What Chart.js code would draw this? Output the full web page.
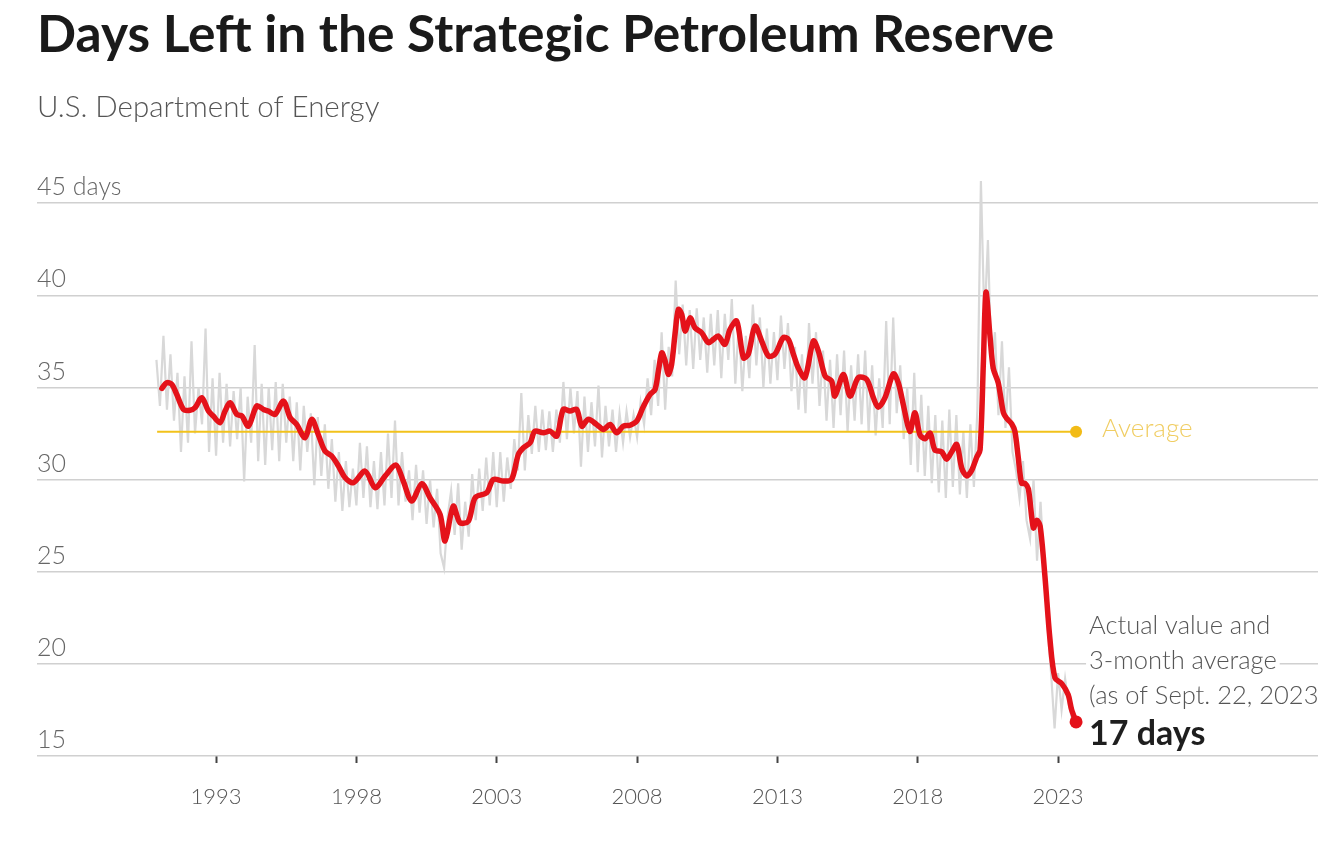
<!DOCTYPE html>
<html><head><meta charset="utf-8">
<script src="https://cdn.jsdelivr.net/npm/chart.js@4.4.0/dist/chart.umd.min.js"></script>
<style>
html,body{margin:0;padding:0;background:#fff;overflow:hidden;}
#wrap{position:relative;width:1318px;height:847px;}
</style></head><body>
<div id="wrap"><canvas id="c"></canvas></div>
<script>
const titleText = 'Days Left in the Strategic Petroleum Reserve';
const subtitleText = 'U.S. Department of Energy';
const tickYears = [1993, 1998, 2003, 2008, 2013, 2018, 2023];
const yTickValues = [15, 20, 25, 30, 35, 40, 45];
const averageDays = 32.6;
const averageYears = [1990.9, 2023.64];
const averageLabel = 'Average';
const noteLines = ['Actual value and', '3-month average', '(as of Sept. 22, 2023)'];
const latestLabel = '17 days';

// 3-month average (red)
const avgYears = [
1991.07,1991.24,1991.42,1991.60,1991.84,1992.07,1992.25,1992.49,1992.73,1992.90,
1993.14,1993.32,1993.50,1993.74,1993.92,1994.15,1994.45,1994.69,1994.86,1995.10,
1995.40,1995.64,1995.87,1996.17,1996.41,1996.64,1996.88,1997.12,1997.36,1997.60,
1997.89,1998.31,1998.67,1999.02,1999.41,1999.67,1999.97,2000.33,2000.62,2000.98,
2001.16,2001.45,2001.69,2001.99,2002.23,2002.64,2002.88,2003.24,2003.53,2003.77,
2003.95,2004.19,2004.36,2004.66,2004.90,2005.14,2005.37,2005.61,2005.85,2006.03,
2006.26,2006.56,2006.80,2007.04,2007.27,2007.51,2007.75,2007.99,2008.22,2008.46,
2008.64,2008.76,2008.88,2009.00,2009.11,2009.23,2009.35,2009.47,2009.59,2009.71,
2009.89,2010.06,2010.30,2010.54,2010.72,2010.89,2011.13,2011.31,2011.55,2011.79,
2011.96,2012.20,2012.44,2012.68,2012.91,2013.21,2013.39,2013.57,2013.74,2013.98,
2014.28,2014.46,2014.70,2014.93,2015.05,2015.35,2015.59,2015.88,2016.18,2016.42,
2016.59,2016.83,2017.13,2017.31,2017.49,2017.72,2017.90,2018.08,2018.26,2018.44,
2018.61,2018.85,2019.03,2019.21,2019.39,2019.57,2019.74,2019.92,2020.10,2020.22,
2020.34,2020.43,2020.57,2020.69,2020.87,2021.05,2021.17,2021.35,2021.46,2021.58,
2021.70,2021.82,2021.94,2022.12,2022.24,2022.36,2022.53,2022.71,2022.89,2023.13,
2023.36,2023.48,2023.64];
const avgDays = [
34.95,35.26,35.17,34.62,33.81,33.76,33.90,34.44,33.72,33.45,
33.09,33.72,34.17,33.54,33.45,32.90,34.00,33.81,33.72,33.54,
34.26,33.36,33.00,32.27,33.27,32.45,31.55,31.28,30.74,30.10,
29.83,30.46,29.56,30.19,30.79,29.92,28.84,29.78,29.02,28.11,
26.67,28.56,27.66,27.75,29.02,29.29,30.01,29.92,30.01,31.37,
31.73,32.00,32.63,32.54,32.63,32.36,33.81,33.72,33.81,32.90,
33.27,32.99,32.72,32.99,32.54,32.90,32.95,33.18,33.95,34.62,
34.89,35.89,36.88,36.43,35.71,36.25,37.88,39.24,38.97,38.06,
38.78,38.24,37.97,37.43,37.61,37.79,37.34,38.15,38.60,36.61,
36.80,38.33,37.52,36.70,36.80,37.70,37.61,36.80,36.07,35.53,
37.52,36.97,35.62,35.35,34.53,35.71,34.53,35.53,35.44,34.44,
33.93,34.43,35.74,35.24,34.03,32.62,33.63,32.42,32.22,32.52,
31.61,31.51,31.11,31.51,31.91,30.61,30.20,30.50,31.21,31.61,
36.44,40.17,37.85,36.04,35.24,33.63,33.32,33.02,32.62,31.21,
29.80,29.80,29.50,27.38,27.79,27.48,24.77,21.34,19.23,18.93,
18.32,17.52,16.85];

// Actual values (grey), one reading every 1.5 months from late 1990
const weeklyStart = 1990.875;
const weeklyStep = 0.125;
const weeklyDays = [
36.5,
34.0,37.8,33.8,36.8,33.2,35.8,31.5,35.6,
32.0,37.5,32.5,35.0,33.0,38.2,31.5,35.5,
31.3,35.8,32.0,35.2,31.8,34.8,32.2,35.0,
29.9,34.5,32.0,37.3,31.0,35.2,30.8,35.0,
31.6,35.3,31.0,35.2,32.0,34.5,31.0,34.2,
30.5,34.0,31.5,33.6,29.7,33.4,30.2,33.0,
29.5,32.2,28.8,31.5,28.3,31.0,28.5,30.6,
28.6,32.0,29.0,31.8,28.5,31.0,28.4,31.5,
28.6,32.5,29.0,33.2,28.6,31.5,28.8,30.5,
27.8,30.8,28.2,30.5,27.6,30.0,27.4,29.5,
26.0,25.2,28.0,29.4,27.0,29.8,26.2,28.8,
26.9,30.3,27.8,30.6,28.3,31.2,28.6,31.5,
28.5,31.5,28.8,31.2,29.5,32.2,30.5,34.7,
30.5,33.5,31.4,34.0,31.5,33.8,31.6,33.7,
31.5,33.8,32.0,35.3,32.2,35.0,32.5,34.8,
30.7,34.5,31.5,34.2,31.8,35.1,31.2,34.0,
31.8,33.8,31.5,33.6,32.0,33.7,32.3,33.5,
32.3,34.2,33.0,35.5,33.5,36.5,34.0,38.0,
33.8,37.2,35.6,40.8,36.8,39.5,36.2,39.2,
36.0,39.3,36.5,38.8,35.8,39.0,36.2,39.2,
35.5,39.0,36.5,39.8,35.2,38.5,34.8,37.8,
35.5,39.5,36.2,38.8,35.0,38.2,35.2,38.0,
35.4,38.9,36.0,38.5,34.8,37.2,33.8,36.8,
33.6,38.5,35.2,38.0,34.0,37.0,33.2,36.5,
32.8,36.8,33.5,37.0,32.6,36.2,33.2,36.8,
33.0,37.0,32.6,36.2,32.4,35.5,32.8,38.6,
33.0,38.8,33.6,36.2,32.2,35.0,30.8,35.8,
30.4,34.6,30.2,34.0,29.8,33.5,29.3,33.2,
29.0,33.8,29.6,33.5,29.2,32.6,29.0,33.0,
29.6,33.8,46.2,38.5,43.0,36.0,38.0,33.5,
37.5,32.8,36.1,31.5,30.5,29.0,31.0,27.8,
26.8,30.0,25.6,28.8,25.2,22.0,19.5,16.5,
19.5,17.5,19.2,17.8,17.0,16.6];

const redData = avgYears.map((x, i) => ({x: x, y: avgDays[i]}));
const greyData = weeklyDays.map((y, i) => ({x: weeklyStart + i * weeklyStep, y: y}));
const averageData = averageYears.map(x => ({x: x, y: averageDays}));

const notePlugin = {
  id: 'notes',
  afterDatasetsDraw(chart) {
    const ctx = chart.ctx;
    const redMeta = chart.getDatasetMeta(0);
    const last = redMeta.data[redMeta.data.length - 1];
    const avgMeta = chart.getDatasetMeta(1);
    const avgEnd = avgMeta.data[avgMeta.data.length - 1];
    ctx.save();
    ctx.textBaseline = 'middle';
    ctx.textAlign = 'left';
    ctx.font = '300 26px Lato';
    ctx.fillStyle = '#f0cd62';
    ctx.fillText(averageLabel, avgEnd.x + 26, avgEnd.y - 3);
    const lx = last.x + 13;
    ctx.font = '300 25.5px Lato';
    noteLines.forEach((t, i) => {
      const ty = last.y - 96 + i * 35;
      const w = ctx.measureText(t).width;
      ctx.fillStyle = '#fff';
      ctx.fillRect(lx - 3, ty - 13, w + 6, 26);
      ctx.fillStyle = '#555';
      ctx.fillText(t, lx, ty);
    });
    ctx.font = 'bold 34px Lato';
    ctx.fillStyle = '#1e1e1e';
    ctx.fillText(latestLabel, lx, last.y + 12);
    ctx.restore();
  }
};

new Chart(document.getElementById('c'), {
  type: 'line',
  data: {
    datasets: [
      {label: '3-month average', data: redData, borderColor: '#e4121a', borderWidth: 5.5, tension: 0.3,
       pointRadius: c => c.dataIndex === redData.length - 1 ? 6.5 : 0,
       pointBackgroundColor: '#e4121a', pointBorderWidth: 0, clip: false,
       borderCapStyle: 'round', borderJoinStyle: 'round'},
      {label: 'Average', data: averageData, borderColor: '#f2c21b', borderWidth: 2,
       pointRadius: c => c.dataIndex === averageData.length - 1 ? 6 : 0,
       pointBackgroundColor: '#f2bb16', pointBorderWidth: 0, clip: false},
      {label: 'Actual value', data: greyData, borderColor: '#d8d8d8', borderWidth: 2.2,
       pointRadius: 0, tension: 0, clip: false}
    ]
  },
  options: {
    responsive: true, maintainAspectRatio: false, animation: false,
    layout: {autoPadding: false, padding: {left: 37, right: 0, top: 0, bottom: 15.6}},
    plugins: {
      legend: {display: false}, tooltip: {enabled: false},
      title: {display: true, text: titleText, align: 'start', color: '#1a1a1a',
        font: {family: 'Lato', size: 51.5, weight: 'bold', lineHeight: 1.2}, padding: {top: 4, bottom: 0}},
      subtitle: {display: true, text: subtitleText, align: 'start', color: '#555',
        font: {family: 'Lato', size: 29.5, weight: '300', lineHeight: 1.2}, padding: {top: 24, bottom: 78}}
    },
    scales: {
      x: {type: 'linear', min: 1986.62, max: 2032.26,
        afterBuildTicks: s => { s.ticks = tickYears.map(v => ({value: v})); },
        afterFit: s => { s.paddingLeft = 0; s.paddingRight = 0; },
        grid: {drawOnChartArea: false, drawTicks: true, tickLength: 7, tickWidth: 2, tickColor: '#444'},
        border: {display: false},
        ticks: {padding: 21, color: '#555', font: {family: 'Lato', size: 22, weight: '300'}, callback: v => String(v), maxRotation: 0, autoSkip: false}},
      y: {min: 15, max: 45,
        afterBuildTicks: s => { s.ticks = yTickValues.map(v => ({value: v})); },
        afterFit: s => { s.paddingTop = 0; s.paddingBottom = 0; },
        grid: {color: '#d0d0d0', lineWidth: 1.5, drawTicks: false},
        border: {display: false},
        ticks: {mirror: true, padding: 0, labelOffset: -16, color: '#666',
          font: {family: 'Lato', size: 25, weight: '300'},
          callback: v => v === 45 ? v + ' days' : String(v)}}
    }
  },
  plugins: [notePlugin]
});
</script>
</body></html>
